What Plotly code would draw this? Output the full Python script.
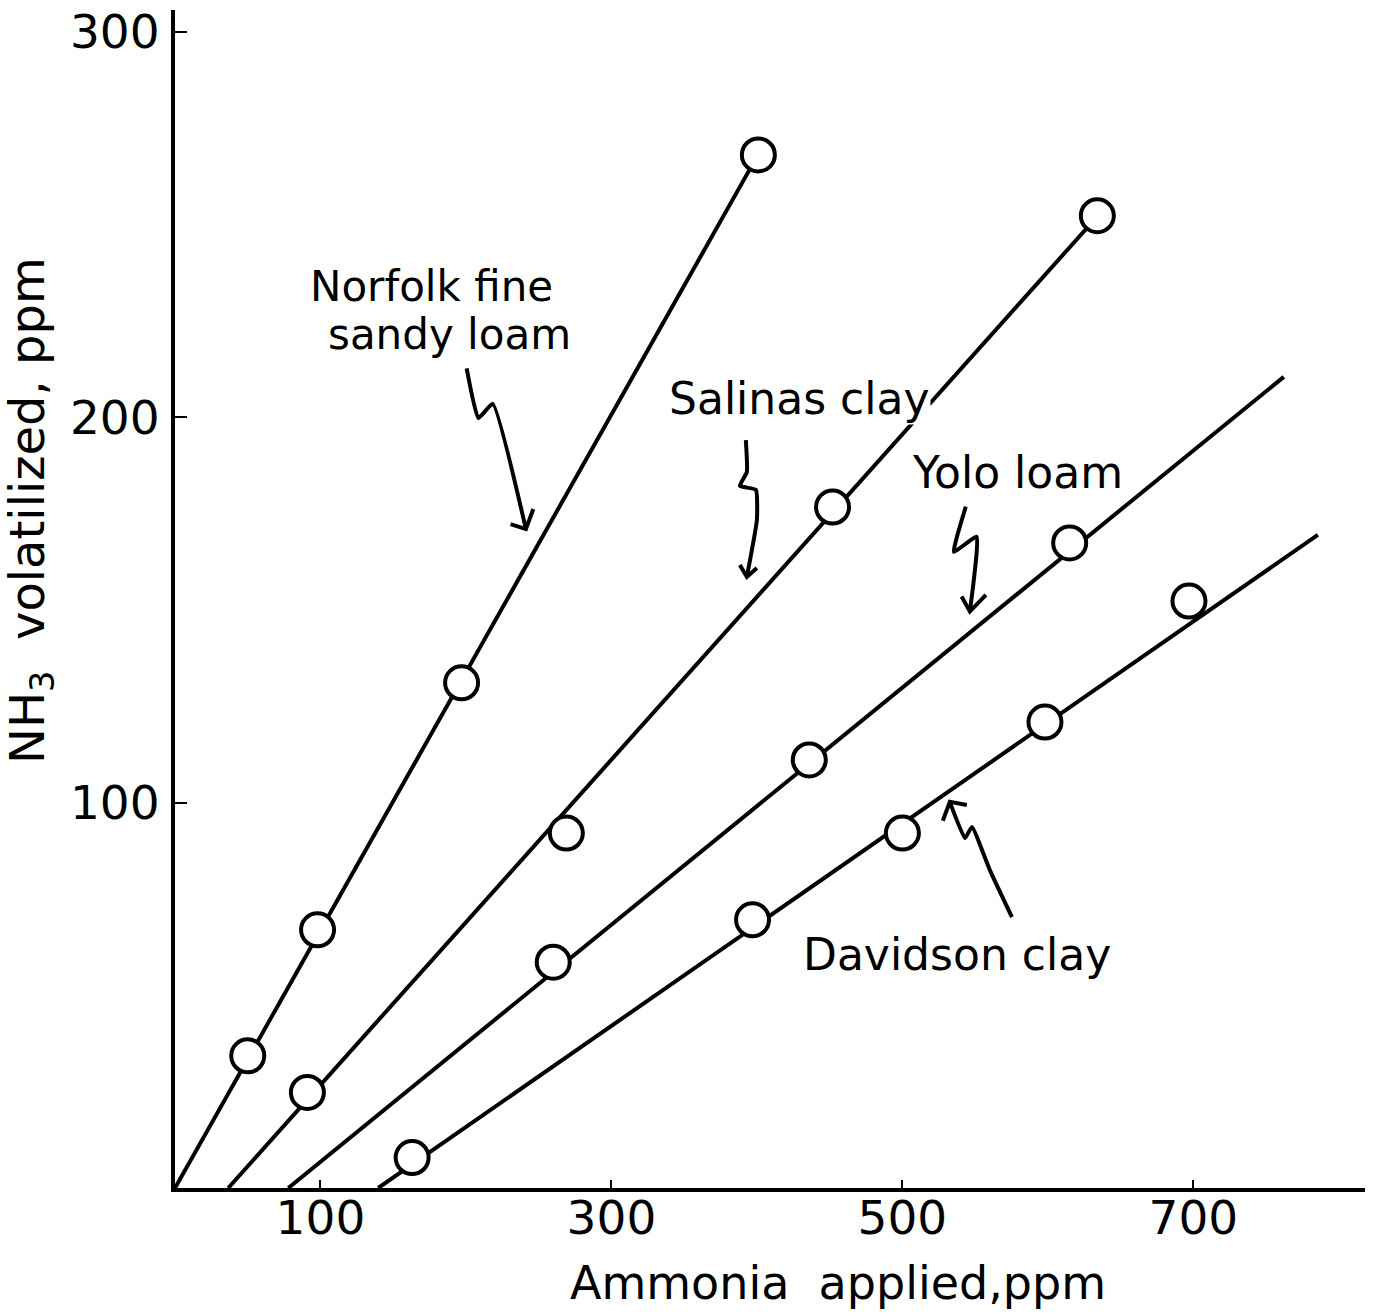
import plotly.graph_objects as go

# Measured NH3 volatilization (ppm) against ammonia applied (ppm), by soil
norfolk_x = [50, 98, 197, 401]
norfolk_y = [34.3, 67.0, 131.1, 268.1]

salinas_x = [91, 269, 452, 634]
salinas_y = [24.8, 92.1, 176.7, 252.3]

yolo_x = [260, 436, 615]
yolo_y = [58.6, 111.1, 167.4]

davidson_x = [163, 397, 500, 598, 697]
davidson_y = [7.9, 69.6, 92.1, 120.9, 152.3]

# Fitted straight lines (start on the x-axis, end point)
norfolk_fit_x, norfolk_fit_y = [0, 400.7], [0, 268.1]
salinas_fit_x, salinas_fit_y = [36.6, 634.4], [0, 252.3]
yolo_fit_x, yolo_fit_y = [77.9, 762.2], [0, 210.5]
davidson_fit_x, davidson_fit_y = [139.7, 785.6], [0, 169.5]

# Hand-drawn pointer arrows from each label to its line (data units)
norfolk_arrow_x = [200.5, 208.5, 218.4, 241.2]
norfolk_arrow_y = [212.7, 199.8, 203.5, 171.0]
norfolk_head_x = [230.7, 241.2, 246.3]
norfolk_head_y = [172.3, 171.0, 176.2]

salinas_arrow_x = [392.4, 393.1, 388.3, 399.3, 400.0, 393.1]
salinas_arrow_y = [194.1, 185.8, 182.2, 181.2, 173.4, 158.6]
salinas_head_x = [388.3, 393.1, 400.0]
salinas_head_y = [161.7, 158.6, 160.9]

yolo_arrow_x = [543.6, 535.4, 551.0, 546.4]
yolo_arrow_y = [176.8, 165.1, 169.0, 149.6]
yolo_head_x = [540.7, 546.4, 557.4]
yolo_head_y = [153.5, 149.6, 153.9]

davidson_arrow_x = [575.3, 560.1, 547.8, 543.0, 532.6]
davidson_arrow_y = [70.3, 82.5, 93.7, 90.8, 100.2]
davidson_head_x = [527.8, 532.6, 544.3]
davidson_head_y = [95.3, 100.2, 99.4]

x_ticks = [100, 300, 500, 700]
y_ticks = [100, 200, 300]

FONT = "DejaVu Sans"
INK = "black"

fig = go.Figure()

# fitted lines
for fx, fy in [(norfolk_fit_x, norfolk_fit_y), (salinas_fit_x, salinas_fit_y),
               (yolo_fit_x, yolo_fit_y), (davidson_fit_x, davidson_fit_y)]:
    fig.add_trace(go.Scatter(x=fx, y=fy, mode="lines",
                             line=dict(color=INK, width=4), hoverinfo="skip"))

# pointer arrows
for ax_, ay_, hx, hy in [
    (norfolk_arrow_x, norfolk_arrow_y, norfolk_head_x, norfolk_head_y),
    (salinas_arrow_x, salinas_arrow_y, salinas_head_x, salinas_head_y),
    (yolo_arrow_x, yolo_arrow_y, yolo_head_x, yolo_head_y),
    (davidson_arrow_x, davidson_arrow_y, davidson_head_x, davidson_head_y),
]:
    fig.add_trace(go.Scatter(x=ax_, y=ay_, mode="lines",
                             line=dict(color=INK, width=4, shape="spline", smoothing=0.4),
                             hoverinfo="skip"))
    fig.add_trace(go.Scatter(x=hx, y=hy, mode="lines",
                             line=dict(color=INK, width=4), hoverinfo="skip"))

# observed points as open circles
for name, px, py in [("Norfolk fine sandy loam", norfolk_x, norfolk_y),
                     ("Salinas clay", salinas_x, salinas_y),
                     ("Yolo loam", yolo_x, yolo_y),
                     ("Davidson clay", davidson_x, davidson_y)]:
    fig.add_trace(go.Scatter(x=px, y=py, mode="markers", name=name,
                             marker=dict(symbol="circle", size=33, color="white",
                                         line=dict(color=INK, width=4))))

labels = [
    ("Norfolk fine", 176.6, 233.9, 42),
    ("sandy loam", 189.0, 221.4, 42),
    ("Salinas clay", 429.6, 205.0, 44),
    ("Yolo loam", 579.4, 185.6, 44),
    ("Davidson clay", 537.5, 60.5, 44),
]
for text, lx, ly, fs in labels:
    fig.add_annotation(x=lx, y=ly, xref="x", yref="y", text=text, showarrow=False,
                       font=dict(family=FONT, size=fs, color=INK),
                       bgcolor="white", borderpad=0,
                       xanchor="center", yanchor="middle")

# axis titles
fig.add_annotation(x=0.557, y=-0.081, xref="paper", yref="paper",
                   text="Ammonia  applied,ppm", showarrow=False,
                   font=dict(family=FONT, size=46, color=INK),
                   xanchor="center", yanchor="middle")
fig.add_annotation(x=-0.122, y=0.5755, xref="paper", yref="paper",
                   text="NH<sub>3</sub>  volatilized, ppm", showarrow=False, textangle=-90,
                   font=dict(family=FONT, size=48, color=INK),
                   xanchor="center", yanchor="middle")

fig.update_layout(
    width=1375, height=1315,
    margin=dict(l=175, r=10, t=10, b=127),
    paper_bgcolor="white", plot_bgcolor="white",
    showlegend=False,
    font=dict(family=FONT, color=INK),
)
fig.update_xaxes(
    range=[0, 818], tickvals=x_ticks, ticktext=[str(v) for v in x_ticks],
    showline=True, linewidth=4, linecolor=INK, mirror=False,
    ticks="inside", ticklen=8, tickwidth=2, tickcolor=INK,
    showgrid=False, zeroline=False, automargin=False,
    tickfont=dict(family=FONT, size=47, color=INK), ticklabelstandoff=-14,
)
fig.update_yaxes(
    range=[0, 305.7], tickvals=y_ticks, ticktext=[str(v) for v in y_ticks],
    showline=True, linewidth=4, linecolor=INK, mirror=False,
    ticks="inside", ticklen=12, tickwidth=2, tickcolor=INK,
    showgrid=False, zeroline=False, automargin=False,
    tickfont=dict(family=FONT, size=47, color=INK), ticklabelstandoff=2,
)

fig.write_html("out.html")
